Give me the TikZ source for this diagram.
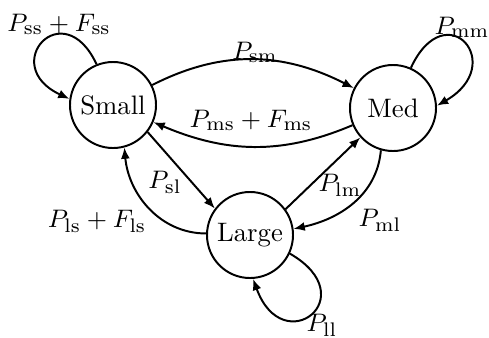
\documentclass[tikz,border=0pt]{standalone}
\usetikzlibrary{arrows.meta}
\tikzset{
  stnode/.style={circle, draw, line width=0.7pt, minimum size=1.075cm, inner sep=0pt},
  trans/.style={->, line width=0.7pt},
  lbl/.style={inner sep=0pt},
}
\begin{document}
\begin{tikzpicture}[>={Latex[length=4pt,width=3.2pt]}, x=0.0125cm, y=0.0125cm,
  every node/.style={font=\fontsize{9.5}{11}\selectfont}]
  \useasboundingbox (0,0) rectangle (489,337);
  % the three states
  \node[stnode] (small) at (113,232) {Small};
  \node[stnode] (med) at (393,229) {Med};
  \node[stnode] (large) at (250,102) {Large};
  % self loops
  \draw[trans] (small.112) to[out=115, in=155, looseness=4.6] (small.172);
  \draw[trans] (med.66) to[out=65, in=30, looseness=4.6] (med.3);
  \draw[trans] (large.-25) to[out=-30, in=-70, looseness=5] (large.-86);
  % small <-> med
  \draw[trans] (small.27) to[out=27, in=153] (med.153);
  \draw[trans] (med.203) to[out=203, in=-23] (small.-23);
  % small <-> large
  \draw[trans] (small.-38) -- (large.143);
  \draw[trans] (large.178) to[out=180, in=-85] (small.-75);
  % large <-> med
  \draw[trans] (large.36) -- (med.222);
  \draw[trans] (med.-106) to[out=-95, in=12] (large.8);
  % labels
  \node[lbl] (pss) at (59,313) {$P_{\mathrm{ss}} + F_{\mathrm{ss}}$};
  \node[lbl] (psm) at (255,285) {$P_{\mathrm{sm}}$};
  \node[lbl] (pms) at (251,217) {$P_{\mathrm{ms}} + F_{\mathrm{ms}}$};
  \node[lbl] (pmm) at (462,310) {$P_{\mathrm{mm}}$};
  \node[lbl] (psl) at (165,155) {$P_{\mathrm{sl}}$};
  \node[lbl] (pls) at (97,116) {$P_{\mathrm{ls}} + F_{\mathrm{ls}}$};
  \node[lbl] (plm) at (340,152) {$P_{\mathrm{lm}}$};
  \node[lbl] (pml) at (380,117) {$P_{\mathrm{ml}}$};
  \node[lbl] (pll) at (322,12) {$P_{\mathrm{ll}}$};
\end{tikzpicture}
\end{document}
